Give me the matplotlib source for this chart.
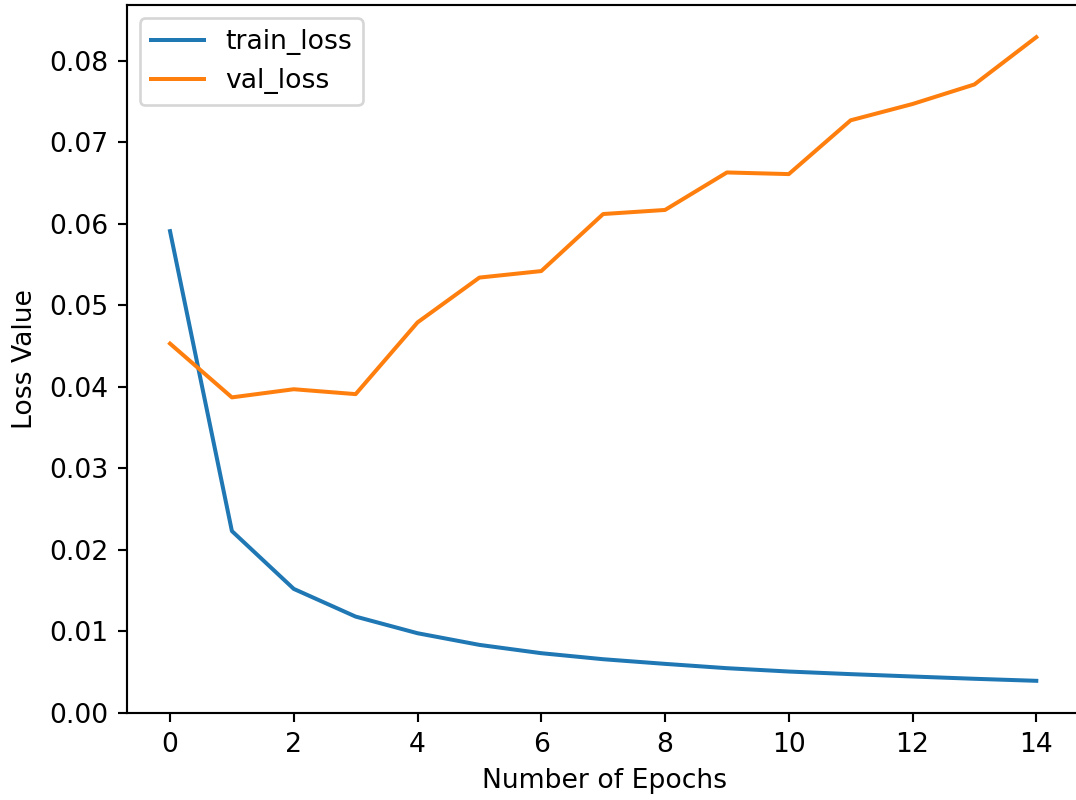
import matplotlib
matplotlib.use("Agg")
import matplotlib.pyplot as plt

# loss history per epoch
epochs = list(range(15))
train_loss = [0.0591, 0.0223, 0.0152, 0.0118, 0.00976, 0.00833, 0.00731, 0.00657,
              0.00600, 0.00547, 0.00506, 0.00474, 0.00445, 0.00417, 0.00392]
val_loss = [0.0453, 0.0387, 0.0397, 0.0391, 0.0479, 0.0534, 0.0542, 0.0612,
            0.0617, 0.0663, 0.0661, 0.0727, 0.0747, 0.0771, 0.0829]

dpi = 192
fig = plt.figure(figsize=(1076 / dpi, 800 / dpi), dpi=dpi)
# axes run a little past the right edge, so the right side stays open
ax = fig.add_axes([126.7 / 1076, 87 / 800, 956 / 1076, 708 / 800])
ax.spines['right'].set_visible(False)

ax.plot(epochs, train_loss, label='train_loss')
ax.plot(epochs, val_loss, label='val_loss')
ax.set_xlim(-0.7, 14.75)
ax.set_xlabel('Number of Epochs')
ax.set_ylabel('Loss Value')
ax.legend(loc='upper left')

fig.savefig('out.png', dpi=dpi)
